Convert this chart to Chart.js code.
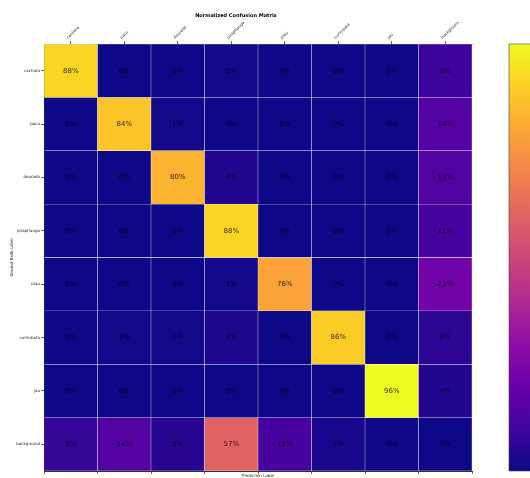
<!DOCTYPE html>
<html>
<head>
<meta charset="utf-8">
<script src="https://cdn.jsdelivr.net/npm/chart.js@4.4.1/dist/chart.umd.min.js"></script>
<style>
  html, body { margin: 0; padding: 0; background: #fff; }
  #wrap { width: 530px; height: 478px; }
</style>
</head>
<body>
<div id="wrap"><canvas id="cm"></canvas></div>
<script>
// classes (ground truth rows / prediction columns)
const classes = ["cachara", "pacu", "dourado", "pirapitanga", "piau", "curimbata", "jau", "background"];

// percent per row
const rowCachara     = [88, 0, 0, 1, 0, 0, 0, 9];
const rowPacu        = [0, 84, 1, 0, 0, 0, 0, 14];
const rowDourado     = [0, 0, 80, 4, 0, 0, 0, 13];
const rowPirapitanga = [0, 0, 0, 88, 0, 0, 0, 11];
const rowPiau        = [0, 0, 0, 1, 76, 0, 0, 21];
const rowCurimbata   = [0, 1, 1, 3, 0, 86, 0, 6];
const rowJau         = [0, 0, 0, 0, 0, 0, 96, 4];
const rowBackground  = [8, 14, 5, 57, 11, 2, 0, 0];

const matrix = [rowCachara, rowPacu, rowDourado, rowPirapitanga, rowPiau, rowCurimbata, rowJau, rowBackground];
const vmax = Math.max(...matrix.flat());

// plasma colormap stops
const plasmaStops = ["#0d0887", "#41049d", "#6a00a8", "#8f0da4", "#b12a90", "#cc4778",
                     "#e16462", "#f2844b", "#fca636", "#fcce25", "#f0f921"];

function hexRgb(h) {
  return [parseInt(h.slice(1, 3), 16), parseInt(h.slice(3, 5), 16), parseInt(h.slice(5, 7), 16)];
}

function plasma(t) {
  t = Math.max(0, Math.min(1, t));
  let p = t * (plasmaStops.length - 1);
  let i = Math.min(Math.floor(p), plasmaStops.length - 2);
  let f = p - i;
  let a = hexRgb(plasmaStops[i]), b = hexRgb(plasmaStops[i + 1]);
  let c = a.map((v, k) => Math.round(v + (b[k] - v) * f));
  return `rgb(${c[0]},${c[1]},${c[2]})`;
}

// one dataset per ground truth row, floating bars [row, row+1]
function buildDatasets() {
  var datasets = [];
  for (let r = 0; r < matrix.length; r++) {
    datasets.push({
      label: classes[r],
      data: classes.map(() => [r, r + 1]),
      values: matrix[r],
      backgroundColor: matrix[r].map(v => plasma(v / vmax)),
      borderColor: "rgba(255,255,255,0.25)",
      borderWidth: 0.5,
      borderSkipped: false,
      barPercentage: 1,
      categoryPercentage: 1,
      grouped: false,
    });
  }
  return datasets;
}

// text in cells
const cellText = {
  id: "cellText",
  afterDatasetsDraw(chart) {
    const ctx = chart.ctx;
    ctx.save();
    ctx.font = "7px 'DejaVu Sans'";
    ctx.fillStyle = "rgba(0,0,0,0.8)";
    ctx.textAlign = "center";
    ctx.textBaseline = "middle";
    chart.data.datasets.forEach((ds, di) => {
      chart.getDatasetMeta(di).data.forEach((bar, j) => {
        const p = bar.getCenterPoint();
        ctx.fillText(ds.values[j] + "%", p.x, p.y);
      });
    });
    ctx.restore();
  }
};

// colorbar at the right (cut off by the canvas edge)
const colorBar = {
  id: "colorBar",
  afterDraw(chart) {
    const a = chart.chartArea;
    const ctx = chart.ctx;
    const x0 = a.right + 37;
    const g = ctx.createLinearGradient(0, a.bottom, 0, a.top);
    plasmaStops.forEach((c, i) => g.addColorStop(i / (plasmaStops.length - 1), c));
    ctx.save();
    ctx.fillStyle = g;
    ctx.fillRect(x0, a.top, 40, a.bottom - a.top);
    ctx.strokeStyle = "#444";
    ctx.lineWidth = 0.6;
    ctx.strokeRect(x0, a.top, 40, a.bottom - a.top);
    ctx.restore();
  }
};

const tickFont = { family: "'DejaVu Sans'", size: 4 };

new Chart(document.getElementById("cm"), {
  type: "bar",
  data: {
    labels: classes,
    datasets: buildDatasets(),
  },
  options: {
    responsive: true,
    maintainAspectRatio: false,
    animation: false,
    layout: { padding: { left: 0, right: 58, top: 0, bottom: 0 } },
    plugins: {
      legend: { display: false },
      tooltip: { enabled: false },
      title: {
        display: true,
        text: "Normalized Confusion Matrix",
        color: "#000",
        font: { family: "'DejaVu Sans'", size: 5, weight: "bold" },
        padding: { top: 13, bottom: 3 },
      },
    },
    scales: {
      x: {
        type: "category",
        position: "top",
        offset: true,
        grid: { offset: false, drawOnChartArea: false, tickLength: 3, color: "#666" },
        border: { color: "#bbb" },
        ticks: { font: tickFont, color: "#222", maxRotation: 45, minRotation: 45, autoSkip: false, padding: 1 },
        afterFit: (s) => { s.height = 22; },
      },
      x2: {
        type: "category",
        position: "bottom",
        offset: true,
        grid: { drawOnChartArea: false, tickLength: 3, color: "#666" },
        border: { color: "#333" },
        ticks: { display: false },
        title: { display: true, text: "Prediction Label", font: tickFont, color: "#222", padding: 0 },
        afterFit: (s) => { s.height = 7; },
      },
      y: {
        type: "linear",
        min: 0,
        max: 8,
        reverse: true,
        afterBuildTicks: (s) => { s.ticks = classes.map((c, i) => ({ value: i + 0.5 })); },
        grid: { drawOnChartArea: false, tickLength: 3, color: "#666" },
        border: { color: "#333" },
        ticks: { font: tickFont, color: "#222", autoSkip: false, padding: 1,
                 callback: (v) => classes[Math.floor(v)] },
        title: { display: true, text: "Ground Truth Label", font: tickFont, color: "#222", padding: { top: 10, bottom: 0 } },
        afterFit: (s) => { s.width = 44; },
      },
    },
  },
  plugins: [cellText, colorBar],
});
</script>
</body>
</html>
